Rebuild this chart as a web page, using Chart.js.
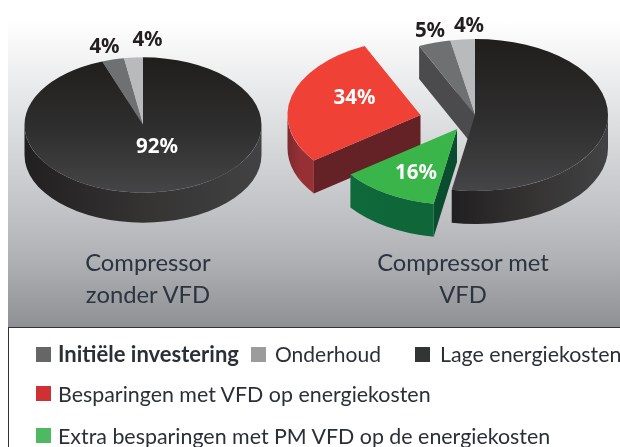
<!DOCTYPE html>
<html><head><meta charset="utf-8">
<script src="https://cdn.jsdelivr.net/npm/chart.js@4"></script>
<style>
html,body{margin:0;padding:0;background:#fff;width:620px;height:447px;overflow:hidden}
#bg{position:absolute;left:8px;top:20px;width:612px;height:307px;background:linear-gradient(#fff 0%,#e9eaeb 22%,#c4c5c8 60%,#b0b1b4 78%,#8f9094 100%)}
#line{position:absolute;left:8px;top:327px;width:612px;height:120px;border-top:1px solid #333;border-left:1px solid #333;box-sizing:border-box}
canvas{position:absolute;left:0;top:0}
.t{position:absolute;white-space:nowrap;font-family:Lato,sans-serif;color:#2b2f38}
.cap{font-size:23.8px;line-height:32px;text-align:center;transform:translateX(-50%);color:#2b3440}
.leg{font-size:21.4px;line-height:24px}
.sq{position:absolute;width:15px;height:15px}
</style></head><body>
<div id="bg"></div><div id="line"></div>
<canvas id="a" width="620" height="447"></canvas>
<canvas id="b" width="620" height="447"></canvas>
<div class="t cap" style="left:148px;top:246px">Compressor<br>zonder VFD</div>
<div class="t cap" style="left:463px;top:246px">Compressor met<br>VFD</div>
<div class="sq" style="left:36px;top:347px;background:#666667"></div>
<div class="t leg" style="left:58px;top:342px;font-weight:700;font-size:22px">Initiële investering</div>
<div class="sq" style="left:251px;top:347px;background:#9c9c9c"></div>
<div class="t leg" style="left:275px;top:342px;font-size:21px">Onderhoud</div>
<div class="sq" style="left:415px;top:347px;background:#333434"></div>
<div class="t leg" style="left:440px;top:342px">Lage energiekosten</div>
<div class="sq" style="left:36px;top:386px;background:#cf3034"></div>
<div class="t leg" style="left:58px;top:382px">Besparingen met VFD op energiekosten</div>
<div class="sq" style="left:36px;top:428px;background:#4fb962"></div>
<div class="t leg" style="left:58px;top:424px">Extra besparingen met PM VFD op de energiekosten</div>
<script>
// slice names
const leftCategories  = ['Lage energiekosten','Initiële investering','Onderhoud'];
const rightCategories = ['Lage energiekosten','Extra besparingen met PM VFD','Besparingen met VFD','Initiële investering','Onderhoud'];
// slice sizes as drawn in the picture (percent of the full circle, clockwise from the top)
const leftShares  = [94.4, 3.0, 2.6];
const rightShares = [52.8, 12.0, 28.3, 3.9, 3.0];
// percentages as printed on the picture
const leftPrinted  = ['92%','4%','4%'];
const rightPrinted = ['','16%','34%','5%','4%'];

const SQUASH = 0.571;
const styles = {
  'Lage energiekosten':{top:null, wall:['#211f20','#353332','#424244']},
  'Initiële investering':{top:'#6f7071', cut:'#4b4b4d'},
  'Onderhoud':{top:'#b9babc', cut:'#4b4b4d'},
  'Besparingen met VFD':{top:'#ef4136', wall:['#7d2a2e','#963035','#963035'], cut:'#642226'},
  'Extra besparingen met PM VFD':{top:'#39b54a', wall:['#0f6a3b','#0e6639','#0e6639'], cut:'#0a4d2e'}
};

const pie3d = {
  id:'pie3d',
  beforeDatasetDraw(chart,args,opts){
    const c=chart.ctx, arcs=chart.getDatasetMeta(0).data;
    const names=chart.data.labels, k=SQUASH, depth=opts.depth;
    opts.order.forEach(i=>{
      const arc=arcs[i], p=arc.getProps(['x','y','startAngle','endAngle','outerRadius']);
      const st=styles[names[i]], sh=opts.shift[i]||[0,0];
      const cx=p.x+sh[0], cy=p.y+sh[1], rx=p.outerRadius, ry=rx*k;
      // cut faces
      const face=(a)=>{
        c.beginPath();
        c.moveTo(cx,cy);
        c.lineTo(cx+rx*Math.cos(a),cy+ry*Math.sin(a));
        c.lineTo(cx+rx*Math.cos(a),cy+ry*Math.sin(a)+depth);
        c.lineTo(cx,cy+depth);
        c.closePath();
        c.fillStyle=st.cut||'#222'; c.fill();
      };
      if(st.cut){
        if(Math.cos(p.startAngle)<-0.001) face(p.startAngle);
        if(Math.cos(p.endAngle)>0.001) face(p.endAngle);
      }
      // outer wall (front half of the rim)
      const a0=Math.max(p.startAngle,0), a1=Math.min(p.endAngle,Math.PI);
      if(st.wall && a1>a0){
        const x0=cx+rx*Math.cos(a1), x1=cx+rx*Math.cos(a0);
        const g=c.createLinearGradient(x0,0,x1,0);
        st.wall.forEach((col,j)=>g.addColorStop(j/(st.wall.length-1),col));
        c.beginPath();
        c.ellipse(cx,cy,rx,ry,0,a0,a1,false);
        c.lineTo(cx+rx*Math.cos(a1),cy+ry*Math.sin(a1)+depth);
        c.ellipse(cx,cy+depth,rx,ry,0,a1,a0,true);
        c.closePath();
        c.fillStyle=g; c.fill();
      }
      // top face: the library's own arc element under an elliptical transform
      c.save();
      c.translate(cx,cy); c.scale(1,k); c.translate(-p.x,-p.y);
      arc.draw(c);
      c.restore();
    });
    // printed percentages
    c.textAlign='center'; c.textBaseline='middle';
    c.font='700 20.5px "Noto Sans",sans-serif';
    opts.printed.forEach((txt,i)=>{
      if(!txt) return;
      c.fillStyle=opts.labelColor[i];
      c.fillText(txt,opts.labelPos[i][0],opts.labelPos[i][1]);
    });
    return false;
  }
};

function makePie(id,labels,shares,cx,cy,R,pluginOpts){
  new Chart(document.getElementById(id),{
    type:'pie',
    plugins:[pie3d],
    data:{labels,datasets:[{
      data:shares,
      borderWidth:0,
      backgroundColor(ctx){
        const st=styles[labels[ctx.dataIndex]];
        if(st && st.top) return st.top;
        const g=ctx.chart.ctx.createLinearGradient(0,cy-R,0,cy+R);
        g.addColorStop(0,'#1f1e1c'); g.addColorStop(0.55,'#302f2f'); g.addColorStop(1,'#454547');
        return g;
      }
    }]},
    options:{
      responsive:false,animation:false,radius:R,rotation:0,
      layout:{padding:{left:Math.max(0,2*cx-620),top:Math.max(0,2*cy-447),right:Math.max(0,620-2*cx),bottom:Math.max(0,447-2*cy)}},
      plugins:{legend:{display:false},tooltip:{enabled:false},pie3d:pluginOpts}
    }
  });
}
makePie('a',leftCategories,leftShares,143,125,118.5,{
  depth:30,order:[2,1,0],shift:[],printed:leftPrinted,
  labelPos:[[157,147],[104.5,47],[147.5,40]],
  labelColor:['#fff','#231f20','#231f20']
});
makePie('b',rightCategories,rightShares,475,115,133,{
  depth:33,order:[4,3,0,2,1],
  shift:[[0,0],[-18,14],[-54.5,0],[0,0],[0,0]],
  printed:rightPrinted,
  labelPos:[[0,0],[416,173],[354.5,98],[430,31],[469,26]],
  labelColor:['#fff','#fff','#fff','#231f20','#231f20']
});
</script>
</body></html>
